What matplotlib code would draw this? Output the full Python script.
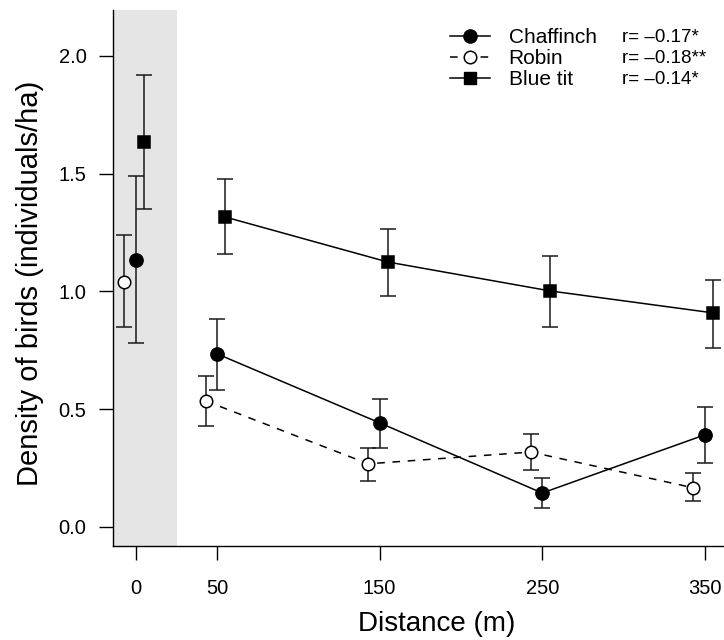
import matplotlib
matplotlib.use("Agg")
import matplotlib.pyplot as plt
from matplotlib.lines import Line2D
import numpy as np

plt.rcParams['font.family'] = ['Liberation Sans', 'DejaVu Sans']

# ---- data ----
distances = [0, 50, 150, 250, 350]
xtick_labels = ["0", "50", "150", "250", "350"]
yticks = [0.0, 0.5, 1.0, 1.5, 2.0]

chaffinch_mean = [1.134, 0.735, 0.442, 0.144, 0.391]
chaffinch_low = [0.781, 0.582, 0.335, 0.081, 0.272]
chaffinch_high = [1.490, 0.883, 0.544, 0.208, 0.510]

robin_mean = [1.040, 0.535, 0.268, 0.318, 0.166]
robin_low = [0.849, 0.429, 0.195, 0.242, 0.110]
robin_high = [1.240, 0.641, 0.335, 0.395, 0.229]

bluetit_mean = [1.635, 1.316, 1.125, 1.002, 0.909]
bluetit_low = [1.350, 1.159, 0.980, 0.850, 0.760]
bluetit_high = [1.919, 1.478, 1.265, 1.151, 1.049]

species = ["Chaffinch", "Robin", "Blue tit"]
r_labels = ["r= \u20130.17*", "r= \u20130.18**", "r= \u20130.14*"]
offsets = [0, -7, 5]
reference_edge = 25.4  # end of shaded reference zone (m)

# ---- figure ----
W, H = 724, 640
fig = plt.figure(figsize=(W / 100, H / 100), dpi=100)
ax = fig.add_axes([113 / W, (H - 546) / H, 611 / W, 536 / H])
ax.set_xlim(-13.96, 361.8)
ax.set_ylim(-0.081, 2.195)

ax.axvspan(-13.96, reference_edge, color='#e5e5e5', lw=0, zorder=0)

ms_circle = 9.5
ms_square = 8.0
lw = 1.1
ecol = '#1a1a1a'

def draw(mean, low, high, off, marker, ms, mfc, ls):
    x = np.array(distances, dtype=float) + off
    m = np.array(mean)
    lo = m - np.array(low)
    hi = np.array(high) - m
    ax.errorbar(x, m, yerr=[lo, hi], fmt='none', ecolor=ecol, elinewidth=1.1,
                capsize=6, capthick=1.1, zorder=2)
    line, = ax.plot(x[1:], m[1:], color='black', lw=lw, zorder=3)
    if ls == 'dashed':
        line.set_dashes((5, 5))
    ax.plot(x, m, linestyle='none', marker=marker, ms=ms, mfc=mfc,
            mec='black', mew=1.1, zorder=4)

draw(chaffinch_mean, chaffinch_low, chaffinch_high, offsets[0], 'o', ms_circle, 'black', 'solid')
draw(robin_mean, robin_low, robin_high, offsets[1], 'o', ms_circle - 0.5, 'white', 'dashed')
draw(bluetit_mean, bluetit_low, bluetit_high, offsets[2], 's', ms_square, 'black', 'solid')

# axes styling (R bty="l")
for s in ['top', 'right']:
    ax.spines[s].set_visible(False)
for s in ['left', 'bottom']:
    ax.spines[s].set_linewidth(1.0)
    ax.spines[s].set_color('black')

ax.set_xticks(distances)
ax.set_xticklabels(xtick_labels)
ax.set_yticks(yticks)
ax.set_yticklabels([f"{v:.1f}" for v in yticks])
ax.tick_params(axis='x', length=10, width=1.0, pad=14, labelsize=14.5)
ax.tick_params(axis='y', length=10, width=1.0, pad=9, labelsize=14.5)

ax.set_xlabel("Distance (m)", fontsize=20)
ax.xaxis.label.set_va('baseline')
ax.xaxis.set_label_coords((436.5 - 113) / 611, (546 - 631) / 536)

fig.text(38 / W, 1 - 283 / H, "Density of birds (individuals/ha)", rotation=90,
         rotation_mode='anchor', ha='center', va='baseline', fontsize=21)

# legend
robin_handle = Line2D([], [], color='black', lw=lw, marker='o', ms=ms_circle - 0.5,
                      mfc='white', mec='black', mew=1.1)
robin_handle.set_dashes((5, 5))
handles = [
    Line2D([], [], color='black', lw=lw, marker='o', ms=ms_circle, mfc='black', mec='black'),
    robin_handle,
    Line2D([], [], color='black', lw=lw, marker='s', ms=ms_square, mfc='black', mec='black'),
]
leg = ax.legend(handles, species, loc='upper left',
                bbox_to_anchor=(450 / W, 1 - 28 / H), bbox_transform=fig.transFigure,
                frameon=False, fontsize=15, handlelength=1.92, handletextpad=0.9,
                borderpad=0, borderaxespad=0, labelspacing=0.1, numpoints=1)

fig.canvas.draw()
inv = ax.transAxes.inverted()
for txt, lab in zip(leg.get_texts(), r_labels):
    bb = txt.get_window_extent()
    yc = (bb.y0 + bb.y1) / 2
    _, ya = inv.transform((0, yc))
    ax.text((622 - 113) / 611, ya, lab, transform=ax.transAxes, fontsize=13.5,
            ha='left', va='center')

fig.savefig("out.png", dpi=100)
